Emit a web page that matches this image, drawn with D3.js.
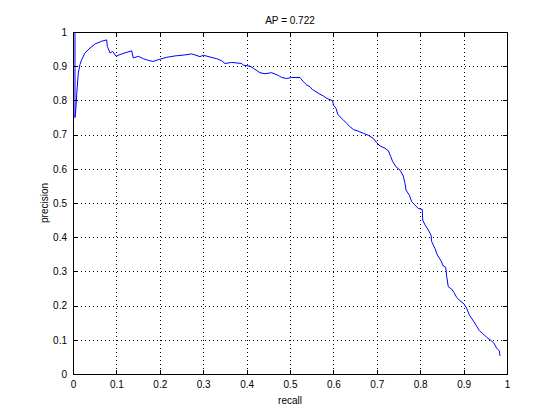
<!DOCTYPE html>
<html>
<head>
<meta charset="utf-8">
<script src="https://cdn.jsdelivr.net/npm/d3@7"></script>
<style>
  body { margin: 0; background: #fff; }
  svg { display: block; }
  text { font-family: "Liberation Sans", Arial, Helvetica, sans-serif; font-size: 10px; fill: #000; }
</style>
</head>
<body>
<svg id="chart" width="560" height="420"></svg>
<script>
// precision / recall curve
const recall = [
  0.0046, 0.0046, 0.0069, 0.0085, 0.0122, 0.0161, 0.0200, 0.0276, 0.0392, 0.0507,
  0.0661, 0.0776, 0.0790, 0.0853, 0.0915, 0.0991, 0.1083, 0.1198, 0.1353, 0.1389,
  0.1505, 0.1620, 0.1735, 0.1850, 0.1965, 0.2159, 0.2350, 0.2581, 0.2735, 0.2926,
  0.3002, 0.3311, 0.3426, 0.3502, 0.3657, 0.3887, 0.3924, 0.4078, 0.4154, 0.4309,
  0.4424, 0.4578, 0.4730, 0.4809, 0.4924, 0.5039, 0.5230, 0.5306, 0.5385, 0.5461,
  0.5514, 0.5691, 0.5767, 0.5846, 0.5984, 0.5998, 0.6060, 0.6099, 0.6152, 0.6228,
  0.6306, 0.6382, 0.6458, 0.6574, 0.6689, 0.6804, 0.6919, 0.6998, 0.7074, 0.7189,
  0.7265, 0.7320, 0.7366, 0.7442, 0.7535, 0.7611, 0.7650, 0.7673, 0.7749, 0.7804,
  0.7880, 0.7956, 0.8048, 0.8058, 0.8111, 0.8187, 0.8249, 0.8265, 0.8341, 0.8394,
  0.8472, 0.8532, 0.8588, 0.8611, 0.8647, 0.8726, 0.8779, 0.8841, 0.8917, 0.9009,
  0.9071, 0.9131, 0.9210, 0.9286, 0.9362, 0.9454, 0.9532, 0.9624, 0.9700, 0.9763,
  0.9823, 0.9839
];
const precision = [
  1.000, 0.750, 0.780, 0.817, 0.880, 0.905, 0.919, 0.939, 0.953, 0.965,
  0.973, 0.977, 0.958, 0.939, 0.943, 0.929, 0.934, 0.939, 0.945, 0.924,
  0.929, 0.922, 0.917, 0.914, 0.919, 0.926, 0.930, 0.933, 0.936, 0.928,
  0.932, 0.922, 0.916, 0.908, 0.911, 0.908, 0.903, 0.900, 0.894, 0.881,
  0.878, 0.881, 0.873, 0.867, 0.864, 0.867, 0.867, 0.855, 0.845, 0.840,
  0.832, 0.818, 0.813, 0.806, 0.799, 0.787, 0.777, 0.760, 0.752, 0.743,
  0.733, 0.723, 0.715, 0.710, 0.704, 0.698, 0.689, 0.676, 0.667, 0.660,
  0.653, 0.636, 0.621, 0.606, 0.596, 0.579, 0.557, 0.538, 0.523, 0.504,
  0.494, 0.484, 0.481, 0.450, 0.436, 0.421, 0.406, 0.387, 0.367, 0.348,
  0.333, 0.316, 0.312, 0.285, 0.255, 0.248, 0.238, 0.224, 0.214, 0.205,
  0.192, 0.173, 0.158, 0.143, 0.127, 0.117, 0.107, 0.099, 0.090, 0.075,
  0.068, 0.053
];
const xTicks = [0, 0.1, 0.2, 0.3, 0.4, 0.5, 0.6, 0.7, 0.8, 0.9, 1];
const yTicks = [0, 0.1, 0.2, 0.3, 0.4, 0.5, 0.6, 0.7, 0.8, 0.9, 1];
const tickLabels = ["0", "0.1", "0.2", "0.3", "0.4", "0.5", "0.6", "0.7", "0.8", "0.9", "1"];
const titleText = "AP = 0.722";

const svg = d3.select("#chart");
const width = 560, height = 420;
const margin = { top: 32, right: 53, bottom: 46, left: 73 };
const plotW = width - margin.left - margin.right;
const plotH = height - margin.top - margin.bottom;

const x = d3.scaleLinear().domain([0, 1]).range([margin.left, margin.left + plotW]);
const y = d3.scaleLinear().domain([0, 1]).range([margin.top + plotH, margin.top]);

// dotted grid
const grid = svg.append("g")
  .attr("stroke", "#000")
  .attr("stroke-width", 1)
  .attr("stroke-dasharray", "1,3")
  .attr("shape-rendering", "crispEdges");
grid.selectAll("line.gx")
  .data(xTicks.slice(1, -1))
  .join("line")
  .attr("class", "gx")
  .attr("x1", d => Math.round(x(d)) + 0.5)
  .attr("x2", d => Math.round(x(d)) + 0.5)
  .attr("y1", y(1))
  .attr("y2", y(0));
grid.selectAll("line.gy")
  .data(yTicks.slice(1, -1))
  .join("line")
  .attr("class", "gy")
  .attr("y1", d => Math.round(y(d)) + 0.5)
  .attr("y2", d => Math.round(y(d)) + 0.5)
  .attr("x1", x(0))
  .attr("x2", x(1));

// curve
const pts = recall.map((r, i) => [r, precision[i]]);
svg.append("path")
  .datum(pts)
  .attr("fill", "none")
  .attr("stroke", "#0000ff")
  .attr("stroke-width", 1)
  .attr("d", d3.line().x(d => x(d[0])).y(d => y(d[1])));

// axes, ticks pointing inside on all four sides
const fmt = (d, i) => tickLabels[i];
const tick = 4;

const axBottom = svg.append("g")
  .attr("transform", `translate(0,${y(0)})`)
  .call(d3.axisBottom(x).tickValues(xTicks).tickFormat(fmt).tickSizeInner(-tick).tickSizeOuter(0).tickPadding(7));
const axTop = svg.append("g")
  .attr("transform", `translate(0,${y(1)})`)
  .call(d3.axisTop(x).tickValues(xTicks).tickFormat("").tickSizeInner(-tick).tickSizeOuter(0));
const axLeft = svg.append("g")
  .attr("transform", `translate(${x(0)},0)`)
  .call(d3.axisLeft(y).tickValues(yTicks).tickFormat(fmt).tickSizeInner(-tick).tickSizeOuter(0).tickPadding(6));
const axRight = svg.append("g")
  .attr("transform", `translate(${x(1)},0)`)
  .call(d3.axisRight(y).tickValues(yTicks).tickFormat("").tickSizeInner(-tick).tickSizeOuter(0));

[axBottom, axTop, axLeft, axRight].forEach(g => {
  g.attr("font-family", null).attr("font-size", null);
  g.selectAll("path, line").attr("stroke", "#000").attr("shape-rendering", "crispEdges");
  g.selectAll("text").attr("fill", "#000");
});

// labels
svg.append("text")
  .attr("x", x(0.5))
  .attr("y", 24)
  .attr("text-anchor", "middle")
  .text(titleText);

svg.append("text")
  .attr("x", x(0.5))
  .attr("y", 404)
  .attr("text-anchor", "middle")
  .text("recall");

svg.append("text")
  .attr("transform", `translate(48,${y(0.5)}) rotate(-90)`)
  .attr("text-anchor", "middle")
  .text("precision");
</script>
</body>
</html>
